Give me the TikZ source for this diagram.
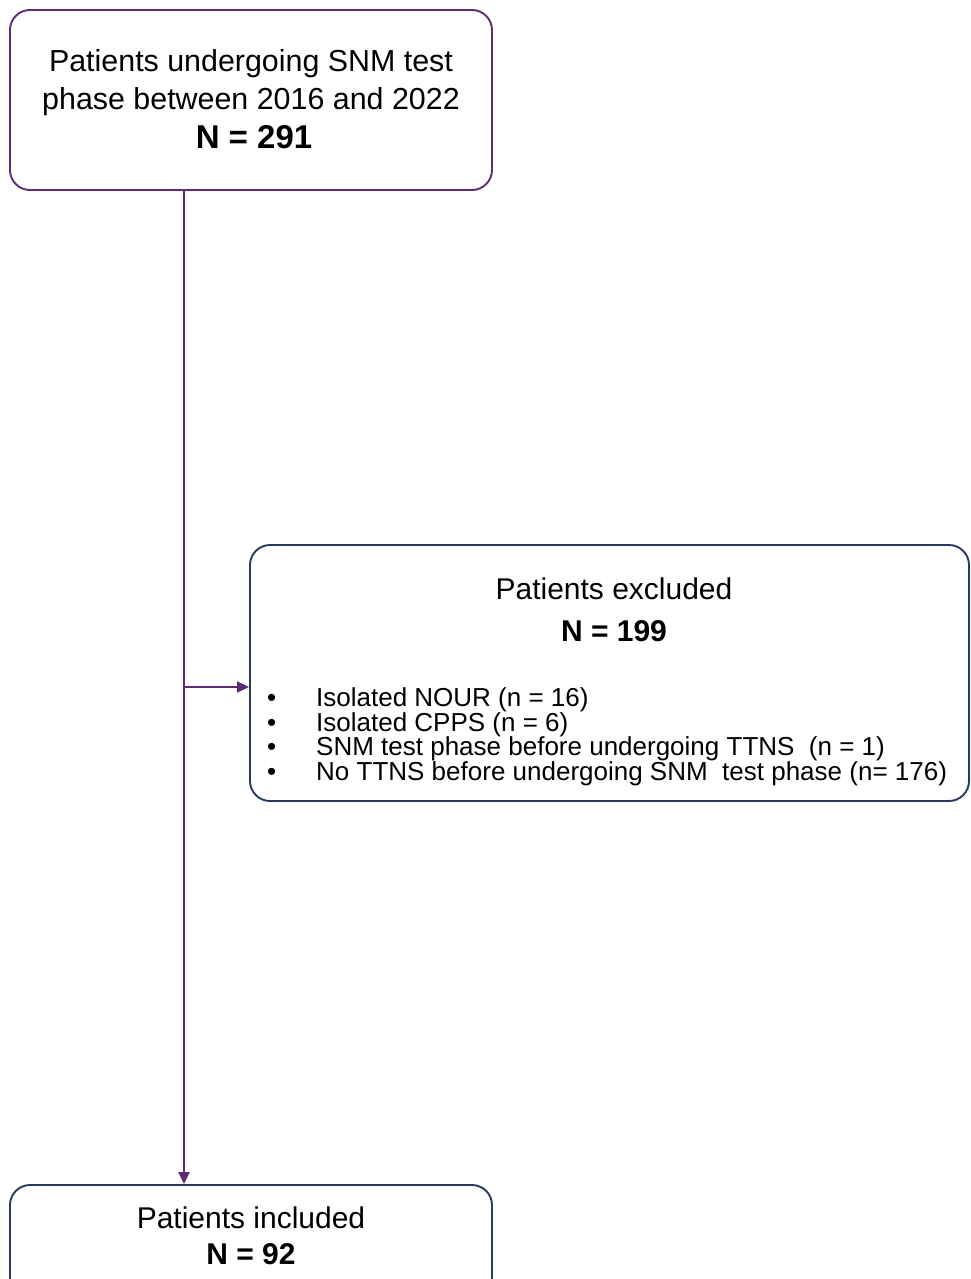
\documentclass[tikz,border=0pt]{standalone}
\usepackage{fontspec}
\setmainfont{Liberation Sans}
\usetikzlibrary{arrows.meta}
\definecolor{flowpurple}{RGB}{92,45,118}
\definecolor{flownavy}{RGB}{40,58,96}
\tikzset{
  boxbase/.style={rectangle, line width=1.9pt, rounded corners=20pt, inner sep=0pt, fill=white},
  boxP/.style={boxbase, draw=flowpurple},
  boxN/.style={boxbase, draw=flownavy},
  bigtxt/.style={anchor=base, inner sep=0pt, font=\fontsize{30}{38}\selectfont},
  listtxt/.style={anchor=base west, inner sep=0pt, font=\fontsize{26}{24.5}\selectfont},
  conn/.style={draw=flowpurple, line width=1.9pt},
  tip/.style={-{Triangle[length=12pt,width=11pt]}}
}
\begin{document}
\begin{tikzpicture}[x=1pt,y=-1pt]
\useasboundingbox (0,0) rectangle (971,1279);
\clip (0,0) rectangle (971,1279);
% boxes
\node[boxP, minimum width=482pt, minimum height=180pt] (top) at (251,100) {};
\node[boxN, minimum width=719pt, minimum height=256pt] (excl) at (609.5,673) {};
\node[boxN, minimum width=482pt, minimum height=115pt] (incl) at (251,1242.5) {};
% texts
\node[bigtxt, font=\fontsize{30.4}{38}\selectfont] (t1) at (251,72) {Patients undergoing SNM test};
\node[bigtxt, font=\fontsize{30.4}{38}\selectfont] (t2) at (251,110) {phase between 2016 and 2022};
\node[bigtxt, font=\fontsize{33}{38}\selectfont\bfseries] (t3) at (254,149) {N = 291};
\node[bigtxt] (e1) at (614,599) {Patients excluded};
\node[bigtxt] (e2) at (614,641) {\bfseries N = 199};
\node[listtxt] (b1) at (267,706) {•};
\node[listtxt] (b2) at (267,731) {•};
\node[listtxt] (b3) at (267,755) {•};
\node[listtxt] (b4) at (267,780) {•};
\node[listtxt] (l1) at (316,706) {Isolated NOUR (n = 16)};
\node[listtxt] (l2) at (316,731) {Isolated CPPS (n = 6)};
\node[listtxt] (l3) at (316,755) {SNM test phase before undergoing TTNS~ (n = 1)};
\node[listtxt] (l4) at (316,780) {No TTNS before undergoing SNM~ test phase (n= 176)};
\node[bigtxt] (i1) at (251,1228) {Patients included};
\node[bigtxt] (i2) at (251,1264) {\bfseries N = 92};
% connectors
\coordinate (j) at (184,687);
\draw[conn, tip] (top.south -| j) -- (incl.north -| j);
\draw[conn, tip] (j) -- (excl.west |- j);
\end{tikzpicture}
\end{document}
